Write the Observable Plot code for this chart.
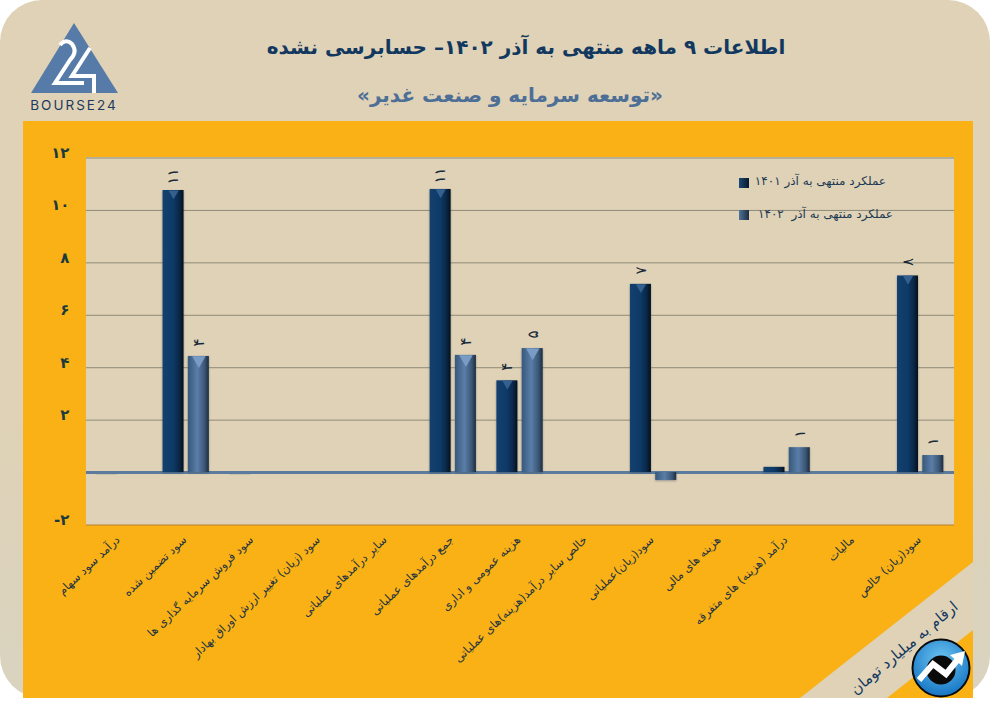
<!DOCTYPE html>
<html lang="fa">
<head>
<meta charset="utf-8">
<script src="https://cdn.jsdelivr.net/npm/d3@7"></script>
<script src="https://cdn.jsdelivr.net/npm/@observablehq/plot@0.6"></script>
<style>
html,body{margin:0;padding:0;background:#fff;width:991px;height:718px;overflow:hidden;font-family:"DejaVu Sans",sans-serif}
#page{position:relative;width:991px;height:718px}
#page>*{position:absolute}
#sheet{left:0;top:0;width:990px;height:698px;border-radius:42px;background:linear-gradient(180deg,#dfd2b6 0%,#dfd2b6 60%,#d9d3c0 100%)}
#panel{left:23px;top:121px;width:950px;height:577px;background:#f9b116}
#plotbg{left:86px;top:157px;width:868px;height:368px;background:#dfd2b6}
#title{left:126px;width:800px;top:32px;text-align:center;font-size:20px;font-weight:700;color:#12385f;direction:rtl;line-height:30px}
#subtitle{left:110px;width:800px;top:81px;text-align:center;font-size:20px;font-weight:700;color:#4d6f96;direction:rtl;line-height:28px}
#chart{left:23px;top:121px}
#chart svg{overflow:visible;background:transparent}
.bars{filter:drop-shadow(0 1.5px 1px rgba(60,70,90,.45))}
.leg{display:block;font-size:12px;color:#1d3a55;direction:rtl;white-space:pre;line-height:16px;text-align:right}
.sw{width:10px;height:10px}
#unit{left:904px;top:648px;transform:translate(-50%,-50%) rotate(-40deg);font-size:15px;color:#12385f;direction:rtl;white-space:nowrap}
</style>
</head>
<body>
<div id="page">
  <svg width="0" height="0" style="position:absolute">
    <defs>
      <linearGradient id="g1401" x1="0" x2="1" y1="0" y2="0">
        <stop offset="0" stop-color="#14406f"/><stop offset=".5" stop-color="#0d3a67"/><stop offset=".8" stop-color="#0a2746"/><stop offset="1" stop-color="#040f1c"/>
      </linearGradient>
      <linearGradient id="g1402" x1="0" x2="1" y1="0" y2="0">
        <stop offset="0" stop-color="#37587c"/><stop offset=".45" stop-color="#5a7ea8"/><stop offset=".8" stop-color="#3b5674"/><stop offset="1" stop-color="#1c2c40"/>
      </linearGradient>
      <radialGradient id="gicon" cx=".5" cy=".35" r=".7">
        <stop offset="0" stop-color="#6cc4f2"/><stop offset="1" stop-color="#0f6fc0"/>
      </radialGradient>
    </defs>
  </svg>
  <div id="sheet"></div>
  <div id="panel"></div>
  <svg style="left:0;top:0" width="991" height="718">
    <polygon points="973,562 973,630 887,698 800,698" fill="#dfd2b6"/>
  </svg>
  <div id="plotbg"></div>
  <div id="title">اطلاعات ۹ ماهه منتهی به آذر ۱۴۰۲– حسابرسی نشده</div>
  <div id="subtitle">«توسعه سرمایه و صنعت غدیر»</div>
  <svg style="left:25px;top:20px" width="100" height="94" viewBox="25 20 100 94">
    <polygon points="74,23 118,93 31,93" fill="#567ba8"/>
    <path d="M60,45 Q66,38 72,44 Q78,52 70,60 L55,83 L84,83" fill="none" stroke="#fff" stroke-width="4"/>
    <path d="M90,48 L72,76 L94,76 L94,93" fill="none" stroke="#fff" stroke-width="4"/>
    <text x="74" y="110" text-anchor="middle" font-family="Inter,'DejaVu Sans',sans-serif" font-size="13.5" letter-spacing="2" fill="#1d3a5e">BOURSE24</text>
  </svg>
  <div id="chart"></div>
  <div class="sw" style="left:739px;top:178px;background:linear-gradient(90deg,#1c4a78,#06182c)"></div>
  <div class="sw" style="left:739px;top:210px;background:linear-gradient(90deg,#4f749c,#1c2c40)"></div>
  <div class="leg" id="leg1" style="right:105px;top:173px"></div>
  <div class="leg" id="leg2" style="right:98px;top:206px"></div>
  <div id="unit">ارقام به میلیارد تومان</div>
  <svg style="left:910px;top:637px" width="62" height="62" viewBox="-31 -31 62 62">
    <circle r="28.5" fill="url(#gicon)" stroke="#0a0a0a" stroke-width="2"/>
    <circle r="14.5" cy="2" fill="#0a0a0a"/>
    <path d="M-22,12 L-8,-4 L5,6 L18,-10" fill="none" stroke="#fff" stroke-width="6"/>
    <polygon points="24,-17 9,-13 21,-2" fill="#fff"/>
  </svg>
</div>
<script>
const categories = [
  "درآمد سود سهام",
  "سود تضمین شده",
  "سود فروش سرمایه گذاری ها",
  "سود (زیان) تغییر ارزش اوراق بهادار",
  "سایر درآمدهای عملیاتی",
  "جمع درآمدهای عملیاتی",
  "هزینه عمومی و اداری",
  "خالص سایر درآمد(هزینه)های عملیاتی",
  "سود(زیان)عملیاتی",
  "هزینه های مالی",
  "درآمد (هزینه) های متفرقه",
  "مالیات",
  "سود(زیان) خالص"
];
const values1401 = [-0.1, 10.76, -0.1, 0, 0, 10.8, 3.5, 0, 7.18, 0, 0.2, 0, 7.5];
const values1402 = [0, 4.43, 0, 0, 0, 4.47, 4.73, 0, -0.3, 0, 0.95, 0, 0.65];
const labels1401 = ["", "۱۱", "", "", "", "۱۱", "۴", "", "۷", "", "", "", "۸"];
const labels1402 = ["", "۴", "", "", "", "۴", "۵", "", "", "", "۱", "", "۱"];
const legendNames = ["عملکرد منتهی به آذر ۱۴۰۱", "عملکرد منتهی به آذر  ۱۴۰۲"];
const yTicks = [-2, 2, 4, 6, 8, 10, 12];
const gridTicks = [2, 4, 6, 8, 10, 12];

document.getElementById("leg1").textContent = legendNames[0];
document.getElementById("leg2").textContent = legendNames[1];

const faDigits = n => String(n).replace(/\d/g, d => "۰۱۲۳۴۵۶۷۸۹"[d]);
const rows = (vals, labs) => categories.map((c, i) => ({c, v: vals[i], t: labs[i]}));
const d1 = rows(values1401, labels1401);
const d2 = rows(values1402, labels1402);

const W = 950, H = 577, ML = 63, MR = 19, MT = 36.5, MB = 173.5;
const band = (W - ML - MR) / categories.length;
const barW = 21, gap = 4, outer = (band - 2 * barW - gap) / 2;
const off = (barW + gap) / 2;
const nudge = 0.6;
const tall = d => Math.abs(d.v) > 1;
const tiny = d => d.v !== 0 && Math.abs(d.v) <= 0.1;
const solid = d => d.v !== 0 && !tiny(d);

const bars = (data, fill, left, right) => Plot.barY(data.filter(solid), {
  x: "c", y: "v", fill, insetLeft: left, insetRight: right, className: "bars"
});
const bevel = (data, fill, dx, r) => Plot.dot(data.filter(tall), {
  x: "c", y: "v", symbol: "triangle", rotate: 180, r, fill, dx, dy: r * 0.75
});
const valueText = (data, dx) => Plot.text(data.filter(d => d.t), {
  x: "c", y: "v", text: "t", dx, dy: -14, rotate: -90, fontSize: 15, fontWeight: 400, fill: "#17283a"
});

const chart = Plot.plot({
  width: W, height: H,
  marginLeft: ML, marginRight: MR, marginTop: MT, marginBottom: MB,
  style: {background: "transparent", fontFamily: "'DejaVu Sans',sans-serif"},
  x: {type: "band", domain: categories, padding: 0, round: false, label: null},
  y: {domain: [-2, 12], label: null},
  marks: [
    Plot.ruleY(gridTicks, {stroke: "#8f8b78", strokeWidth: 1}),
    Plot.ruleY([-2], {stroke: "#b5812d", strokeWidth: 1.2}),
    Plot.barY(d1.filter(tiny), {x: "c", y: "v", fill: "#8f95a0", fillOpacity: 0.4, insetLeft: outer - nudge, insetRight: outer + barW + gap + nudge}),
    Plot.ruleY([0], {stroke: "#5b7c9d", strokeWidth: 3}),
    bars(d1, "url(#g1401)", outer - nudge, outer + barW + gap + nudge),
    bars(d2, "url(#g1402)", outer + barW + gap - nudge / 2, outer + nudge / 2),
    bevel(d1, "#33608f", -off - nudge, 3.8),
    bevel(d2, "#7a9cc4", off - nudge / 2, 5),
    valueText(d1, -off - nudge),
    valueText(d2, off - nudge / 2),
    Plot.axisY(yTicks, {anchor: "left", tickSize: 0, tickPadding: 17, dy: -5, tickFormat: faDigits, fontSize: 15, fontWeight: 700, fill: "#1b3a3c"}),
    Plot.axisX({anchor: "bottom", tickSize: 0, tickPadding: 13, dx: -2, tickRotate: -43.5, fontSize: 11.5, fill: "#22333f", label: null})
  ]
});
document.getElementById("chart").append(chart);
</script>
</body>
</html>
